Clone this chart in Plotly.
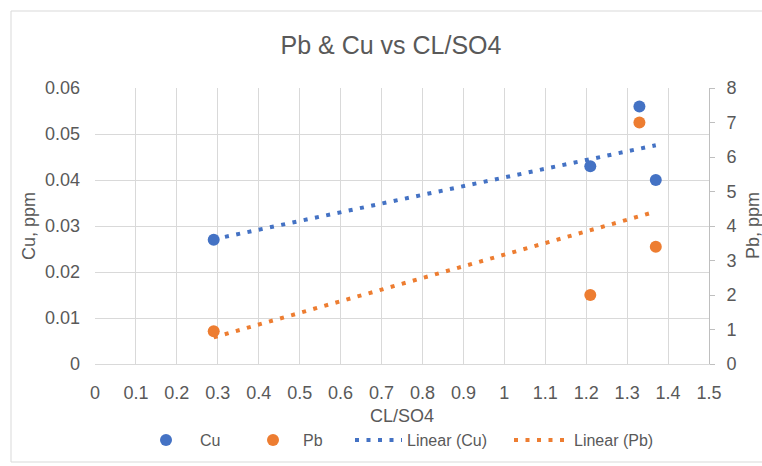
import numpy as np
import plotly.graph_objects as go

# ---- data ----
ratio = [0.29, 1.21, 1.33, 1.37]
cu = [0.027, 0.043, 0.056, 0.040]
pb = [0.95, 2.0, 7.0, 3.4]
x_ticks = [0, 0.1, 0.2, 0.3, 0.4, 0.5, 0.6, 0.7, 0.8, 0.9, 1.0, 1.1, 1.2, 1.3, 1.4, 1.5]
x_labels = ["0", "0.1", "0.2", "0.3", "0.4", "0.5", "0.6", "0.7", "0.8", "0.9", "1",
            "1.1", "1.2", "1.3", "1.4", "1.5"]
cu_ticks = [0, 0.01, 0.02, 0.03, 0.04, 0.05, 0.06]
cu_labels = ["0", "0.01", "0.02", "0.03", "0.04", "0.05", "0.06"]
pb_ticks = [0, 1, 2, 3, 4, 5, 6, 7, 8]
pb_labels = ["0", "1", "2", "3", "4", "5", "6", "7", "8"]

BLUE = "#4472C4"
ORANGE = "#ED7D31"
GRID = "#d9d9d9"
TXT = "#595959"
FONT = "Liberation Sans Narrow, Arial Narrow, Liberation Sans, Arial, sans-serif"


def trend(x, y):
    m, b = np.polyfit(x, y, 1)
    xs = [min(x), max(x)]
    return xs, [m * v + b for v in xs]


tcx, tcy = trend(ratio, cu)
tpx, tpy = trend(ratio, pb)

fig = go.Figure()
fig.add_trace(go.Scatter(x=tcx, y=tcy, mode="lines", name="Linear (Cu)",
                         line=dict(color=BLUE, width=4, dash="4px,7.5px"),
                         yaxis="y", legend="legend3", hoverinfo="skip"))
fig.add_trace(go.Scatter(x=tpx, y=tpy, mode="lines", name="Linear (Pb)",
                         line=dict(color=ORANGE, width=4, dash="4px,7.5px"),
                         yaxis="y2", legend="legend4", hoverinfo="skip"))
fig.add_trace(go.Scatter(x=ratio, y=cu, mode="markers", name="Cu",
                         marker=dict(color=BLUE, size=12), yaxis="y", legend="legend"))
fig.add_trace(go.Scatter(x=ratio, y=pb, mode="markers", name="Pb",
                         marker=dict(color=ORANGE, size=12), yaxis="y2", legend="legend2"))

L, R, T, B = 95, 53, 88, 102
W, H = 762, 466
pw, ph = W - L - R, H - T - B


def px_x(p):
    return (p - L) / pw


def px_y(p):
    return (H - B - p) / ph


def cx(p):
    return p / W


def cy(p):
    return 1 - p / H


leg_common = dict(orientation="h", yanchor="middle", xanchor="left",
                  xref="container", yref="container",
                  font=dict(family=FONT, size=16, color=TXT), bgcolor="rgba(0,0,0,0)",
                  tracegroupgap=0)

fig.update_layout(
    width=W, height=H, autosize=False,
    margin=dict(l=L, r=R, t=T, b=B, pad=0),
    paper_bgcolor="white", plot_bgcolor="white",
    font=dict(family=FONT, color=TXT, size=19),
    title=dict(text="Pb & Cu vs CL/SO4", x=391 / W, xanchor="center",
               y=1 - 45 / H, yanchor="middle",
               font=dict(family=FONT, size=25, color=TXT)),
    xaxis=dict(range=[0, 1.5], tickvals=x_ticks, ticktext=x_labels,
               showgrid=True, gridcolor=GRID, gridwidth=1, zeroline=False,
               showline=True, linecolor=GRID, ticks="", ticklabelstandoff=12,
               tickfont=dict(family=FONT, size=18, color=TXT), fixedrange=True,
               automargin=False),
    yaxis=dict(range=[0, 0.06], tickvals=cu_ticks, ticktext=cu_labels,
               showgrid=True, gridcolor=GRID, gridwidth=1, zeroline=False,
               showline=False, ticks="", ticklabelstandoff=14,
               tickfont=dict(family=FONT, size=18, color=TXT), fixedrange=True,
               automargin=False),
    yaxis2=dict(range=[0, 8], tickvals=pb_ticks, ticktext=pb_labels,
                overlaying="y", side="right", showgrid=False, zeroline=False,
                showline=True, linecolor="#bfbfbf", ticks="outside", ticklen=5,
                tickcolor="#bfbfbf", ticklabelstandoff=8,
                tickfont=dict(family=FONT, size=18, color=TXT), fixedrange=True,
                automargin=False),
    showlegend=True,
    legend=dict(x=cx(132), y=cy(440), itemwidth=58, **leg_common),
    legend2=dict(x=cx(243), y=cy(440), itemwidth=50, **leg_common),
    legend3=dict(x=cx(350), y=cy(440), itemwidth=47, **leg_common),
    legend4=dict(x=cx(509), y=cy(440), itemwidth=55, **leg_common),
    annotations=[
        dict(text="Cu, ppm", xref="paper", yref="paper", x=px_x(29), y=0.5,
             xanchor="center", yanchor="middle",
             textangle=-90, showarrow=False, font=dict(family=FONT, size=18, color=TXT)),
        dict(text="Pb, ppm", xref="paper", yref="paper", x=px_x(753), y=0.5,
             xanchor="center", yanchor="middle",
             textangle=-90, showarrow=False, font=dict(family=FONT, size=18, color=TXT)),
        dict(text="CL/SO4", xref="paper", yref="paper", x=0.5, y=px_y(416),
             xanchor="center", yanchor="middle",
             showarrow=False, font=dict(family=FONT, size=18, color=TXT)),
    ],
    shapes=[
        dict(type="rect", xref="paper", yref="paper",
             x0=px_x(11), x1=px_x(775), y0=px_y(462), y1=px_y(11),
             line=dict(color=GRID, width=1), fillcolor="rgba(0,0,0,0)", layer="below"),
    ],
)

fig.write_html("out.html")
